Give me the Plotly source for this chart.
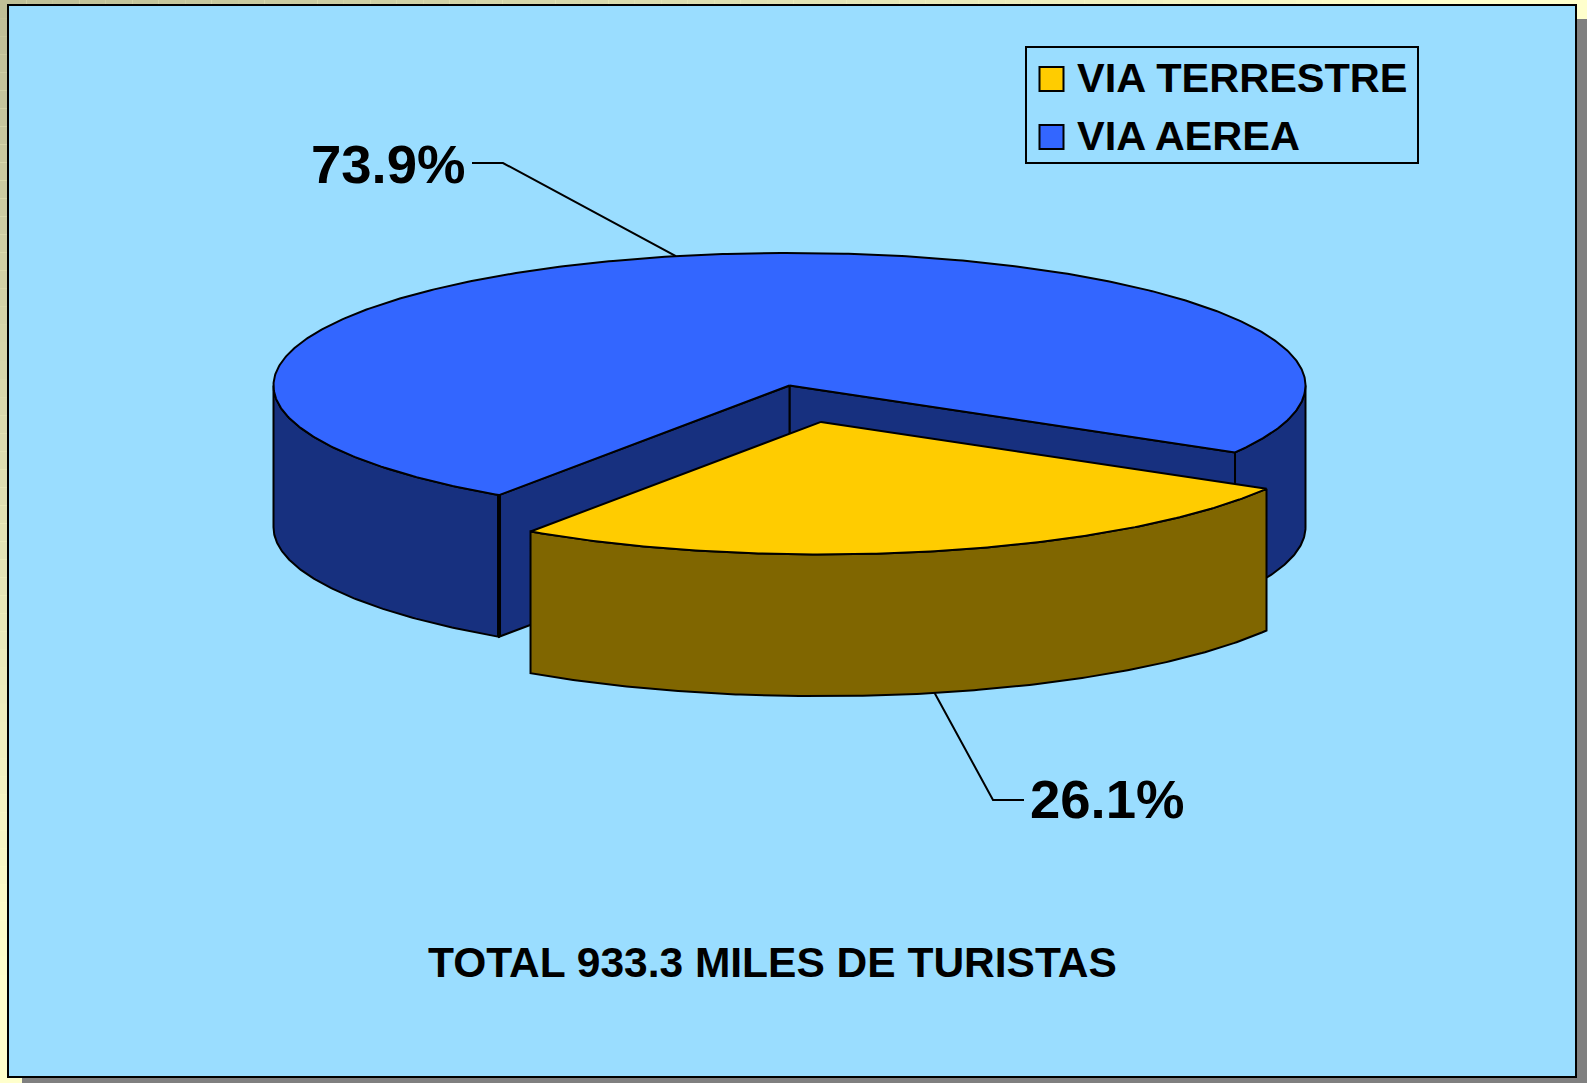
import numpy as np
import plotly.graph_objects as go

categories = ["VIA TERRESTRE", "VIA AEREA"]
shares = [26.1, 73.9]
top_colors = ["#FFCC00", "#3366FF"]
side_colors = ["#806600", "#17307F"]
title_text = "TOTAL 933.3 MILES DE TURISTAS"

W, H = 1587, 1083
CX, CY, RX, RY, DEPTH = 789.5, 385.5, 516.0, 132.6, 141.7
EXPL = (31.5, 36.4)
START = 30.3


def ell(t, off=(0, 0), dz=0.0):
    r = np.radians(t)
    return CX + off[0] + RX * np.cos(r), CY + off[1] + dz + RY * np.sin(r)


def arc(a, b, off=(0, 0), dz=0.0):
    t = np.linspace(a, b, max(int(abs(b - a) * 2), 2))
    return ell(t, off, dz)


def poly(xs, ys, fill, lw=2):
    return go.Scatter(x=list(xs), y=list(ys), mode="lines", fill="toself", fillcolor=fill,
                      line=dict(color="black", width=lw), showlegend=False, hoverinfo="skip")


def wall(a, b, fill, off=(0, 0)):
    x0, y0 = arc(a, b, off)
    x1, y1 = arc(a, b, off, DEPTH)
    return poly(np.r_[x0, x1[::-1], x0[0]], np.r_[y0, y1[::-1], y0[0]], fill)


def cut(t, fill, off=(0, 0)):
    ex, ey = ell(t, off)
    cx, cy = CX + off[0], CY + off[1]
    return poly([cx, ex, ex, cx, cx], [cy, ey, ey + DEPTH, cy + DEPTH, cy], fill)


def sector(a, b, fill, off=(0, 0)):
    x, y = arc(a, b, off)
    cx, cy = CX + off[0], CY + off[1]
    return poly(np.r_[cx, x, cx], np.r_[cy, y, cy], fill)


sweep_y = shares[0] / sum(shares) * 360.0
a0, a1 = START, START + sweep_y
a2 = START + 360.0

fig = go.Figure()
# blue slice: walls then top
fig.add_trace(wall(0, a0, side_colors[1]))
fig.add_trace(cut(a0, side_colors[1]))
fig.add_trace(cut(a1, side_colors[1]))
fig.add_trace(wall(a1, 180, side_colors[1]))
ex, ey = ell(a1)
fig.add_trace(go.Scatter(x=[ex, ex], y=[ey, ey + DEPTH], mode="lines",
                         line=dict(color="black", width=4), showlegend=False, hoverinfo="skip"))
fig.add_trace(sector(a1, a2, top_colors[1]))
# yellow slice
fig.add_trace(wall(a0, a1, side_colors[0], EXPL))
fig.add_trace(sector(a0, a1, top_colors[0], EXPL))

# leader lines anchored at each slice's mid angle
mx, my = ell((a1 + a2) / 2)
fig.add_trace(go.Scatter(x=[472, 503, mx], y=[163, 163, my], mode="lines",
                         line=dict(color="black", width=2), showlegend=False, hoverinfo="skip"))
mx, my = ell((a0 + a1) / 2, EXPL, DEPTH)
fig.add_trace(go.Scatter(x=[1024, 993, mx], y=[800, 800, my], mode="lines",
                         line=dict(color="black", width=2), showlegend=False, hoverinfo="skip"))

# legend swatches
LEG_Y = [79, 137]
fig.add_trace(go.Scatter(x=[1051.5, 1051.5], y=LEG_Y, mode="markers", showlegend=False, hoverinfo="skip",
                         marker=dict(symbol="square", size=24, color=top_colors,
                                     line=dict(color="black", width=2))))

# slide frame: gradient strips, shadow, panel
shapes = []
lo, hi = np.array([0xBF, 0xBF, 0x97]), np.array([0xFF, 0xFF, 0xCC])
N = 60
for i in range(N):
    c = lo + (hi - lo) * min(1.0, (i + 0.5) / N * 1.12)
    col = "rgb(%d,%d,%d)" % tuple(c)
    shapes.append(dict(type="rect", xref="x", yref="y", layer="below", line_width=0, fillcolor=col,
                       x0=0, x1=8, y0=H * i / N, y1=H * (i + 1) / N))
    shapes.append(dict(type="rect", xref="x", yref="y", layer="below", line_width=0, fillcolor=col,
                       x0=W * i / N, x1=W * (i + 1) / N, y0=0, y1=5))
shapes.append(dict(type="rect", xref="x", yref="y", layer="below", line_width=0, fillcolor="#808080",
                   x0=1576, x1=W, y0=19, y1=H))
shapes.append(dict(type="rect", xref="x", yref="y", layer="below", line_width=0, fillcolor="#808080",
                   x0=22, x1=W, y0=1077, y1=H))
shapes.append(dict(type="rect", xref="x", yref="y", layer="below", fillcolor="#9ADDFF",
                   line=dict(color="black", width=2), x0=8, x1=1576, y0=5, y1=1077))
# legend box
shapes.append(dict(type="rect", xref="x", yref="y", layer="below", fillcolor="rgba(0,0,0,0)",
                   line=dict(color="black", width=2), x0=1026, x1=1418, y0=47, y1=163))

FONT = "Liberation Sans"
notes = [
    dict(text="<b>%.1f%%</b>" % shares[1], x=468, y=164, xanchor="right", size=54.5),
    dict(text="<b>%.1f%%</b>" % shares[0], x=1028, y=799, xanchor="left", size=54.5),
    dict(text="<b>%s</b>" % title_text, x=772, y=962, xanchor="center", size=42.5),
    dict(text="<b>%s</b>" % categories[0], x=1074.5, y=LEG_Y[0] - 2, xanchor="left", size=41.5),
    dict(text="<b>%s</b>" % categories[1], x=1074.5, y=LEG_Y[1] - 2, xanchor="left", size=41.5),
]
annotations = [dict(text=n["text"], x=n["x"], y=n["y"], xref="x", yref="y", xanchor=n["xanchor"],
                    yanchor="middle", showarrow=False, font=dict(family=FONT, size=n["size"], color="black"))
               for n in notes]

fig.update_layout(
    width=W, height=H, autosize=False, showlegend=False,
    margin=dict(l=0, r=0, t=0, b=0),
    paper_bgcolor="#FFFFCC", plot_bgcolor="rgba(0,0,0,0)",
    xaxis=dict(range=[0, W], visible=False, fixedrange=True),
    yaxis=dict(range=[H, 0], visible=False, fixedrange=True),
    shapes=shapes, annotations=annotations,
)
fig.write_html("out.html", config={"displayModeBar": False},
               post_script="document.body.style.margin='0';document.body.style.overflow='hidden';")
